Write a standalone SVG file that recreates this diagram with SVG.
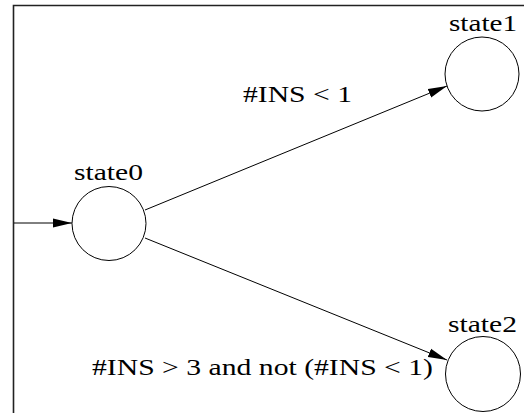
<svg xmlns="http://www.w3.org/2000/svg" width="524" height="413" viewBox="0 0 524 413">
  <style>
    .state { fill: #ffffff; stroke: #000000; stroke-width: 1; }
    .edge { fill: none; stroke: #000000; stroke-width: 1; }
    .frame { fill: none; stroke: #222222; stroke-width: 1.6; }
    text { font-family: 'Liberation Serif', 'Times New Roman', serif; fill: #000000; }
    .slabel { font-size: 23px; }
    .elabel { font-size: 24px; }
  </style>
  <defs>
    <marker id="arrow" markerUnits="userSpaceOnUse" markerWidth="19" markerHeight="10" refX="19" refY="5" orient="auto">
      <path d="M0,0.5 L19,5 L0,9.5 z" fill="#000000"/>
    </marker>
  </defs>
  <rect width="524" height="413" fill="#ffffff"/>
  <path class="frame" d="M13.5,413 L13.5,5.5 L524,5.5"/>
  <g id="connectors">
    <line class="edge" x1="14" y1="223" x2="72" y2="223" marker-end="url(#arrow)"/>
    <line class="edge" x1="145" y1="210" x2="447" y2="86" marker-end="url(#arrow)"/>
    <line class="edge" x1="145" y1="238" x2="447" y2="360" marker-end="url(#arrow)"/>
    <text class="elabel" x="243" y="102" textLength="109" lengthAdjust="spacingAndGlyphs">#INS &lt; 1</text>
    <text class="elabel" x="92" y="375" textLength="341" lengthAdjust="spacingAndGlyphs">#INS &gt; 3 and not (#INS &lt; 1)</text>
  </g>
  <g id="state0">
    <circle class="state" cx="109" cy="223.5" r="37"/>
    <text class="slabel" x="74" y="180" textLength="69" lengthAdjust="spacingAndGlyphs">state0</text>
  </g>
  <g id="state1">
    <circle class="state" cx="482" cy="74" r="37"/>
    <text class="slabel" x="449" y="31" textLength="68" lengthAdjust="spacingAndGlyphs">state1</text>
  </g>
  <g id="state2">
    <circle class="state" cx="483" cy="374" r="37.5"/>
    <text class="slabel" x="448" y="332" textLength="69" lengthAdjust="spacingAndGlyphs">state2</text>
  </g>
</svg>
